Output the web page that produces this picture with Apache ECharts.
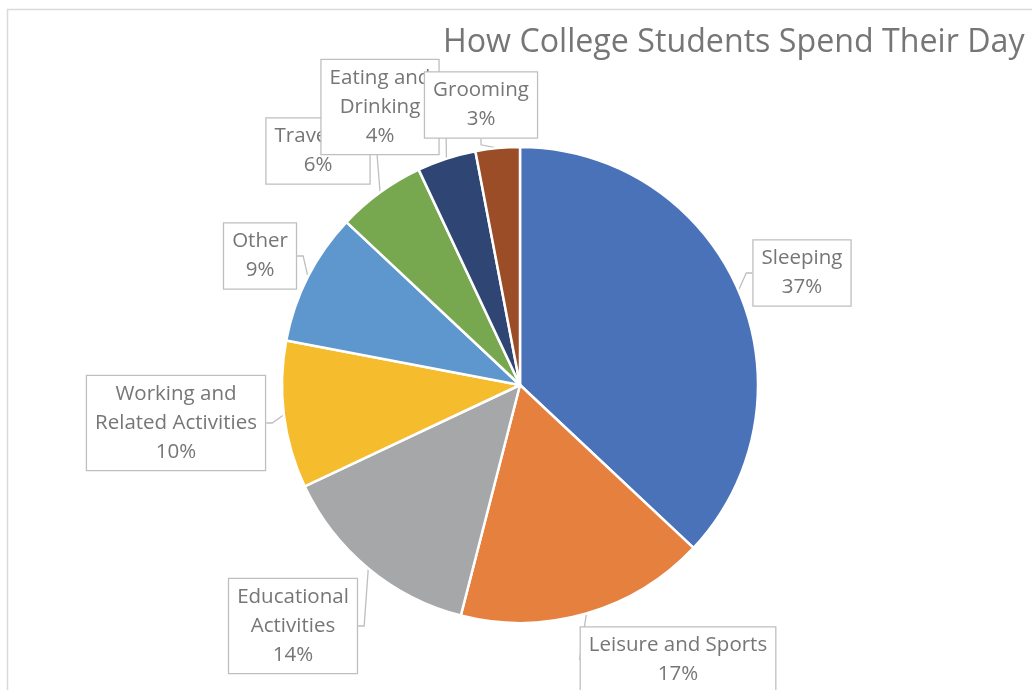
<!DOCTYPE html>
<html>
<head>
<meta charset="utf-8">
<script src="https://cdn.jsdelivr.net/npm/echarts@6/dist/echarts.min.js"></script>
<style>
  html, body { margin: 0; padding: 0; background: #fff; }
  #chart { width: 1032px; height: 690px; }
</style>
</head>
<body>
<div id="chart"></div>
<script>
// Share of a college student's day, by activity (percent)
const categories = [
  'Sleeping', 'Leisure and Sports', 'Educational Activities',
  'Working and Related Activities', 'Other', 'Traveling',
  'Eating and Drinking', 'Grooming'
];
const shares = [37, 17, 14, 10, 9, 6, 4, 3];
// How each category name is broken across lines in its callout
const wrappedNames = [
  'Sleeping', 'Leisure and Sports', 'Educational\nActivities',
  'Working and\nRelated Activities', 'Other', 'Traveling',
  'Eating and\nDrinking', 'Grooming'
];
const titleText = 'How College Students Spend Their Day';

// Slice colours
const palette = ['#4A72B8', '#E5803F', '#A6A7A8', '#F5BC2E', '#5E97CD', '#77A84F', '#2F4573', '#9A4D26'];
// Centre of each callout box, in pixels
const calloutCentres = [
  [802, 273], [678, 660], [293, 626], [176, 423],
  [260, 256], [318, 151], [380, 107], [481, 105]
];

const FONT = '"Open Sans", Lato, sans-serif';
const TEXT_GREY = '#767676';

const chart = echarts.init(document.getElementById('chart'), null, { renderer: 'canvas' });

chart.setOption({
  backgroundColor: '#fff',
  animation: false,
  title: {
    text: titleText,
    left: 438,
    top: 22,
    textStyle: { fontFamily: FONT, fontSize: 32.2, fontWeight: 'normal', color: TEXT_GREY }
  },
  graphic: [{
    type: 'rect',
    shape: { x: 7.5, y: 9.5, width: 1200, height: 900 },
    style: { fill: 'none', stroke: '#D9D9D9', lineWidth: 1.5 },
    silent: true,
    z: -1
  }],
  series: [{
    type: 'pie',
    center: [520, 385],
    radius: 238,
    startAngle: 90,
    clockwise: true,
    avoidLabelOverlap: false,
    itemStyle: { borderColor: '#fff', borderWidth: 2.5 },
    label: {
      show: true,
      position: 'outside',
      fontFamily: FONT,
      fontSize: 20.5,
      lineHeight: 29,
      color: TEXT_GREY,
      align: 'center',
      backgroundColor: '#fff',
      borderColor: '#BFBFBF',
      borderWidth: 1.3,
      padding: [4, 8, 3, 8],
      formatter: (p) => wrappedNames[p.dataIndex] + '\n' + Math.round(p.percent) + '%'
    },
    labelLine: {
      show: true,
      length: 8,
      length2: 6,
      lineStyle: { color: '#BFBFBF', width: 1.3 }
    },
    labelLayout: (params) => {
      const c = calloutCentres[params.dataIndex];
      return { x: c[0], y: c[1], align: 'center', verticalAlign: 'middle' };
    },
    data: categories.map((name, i) => ({
      name: name,
      value: shares[i],
      itemStyle: { color: palette[i] }
    }))
  }]
});
</script>
</body>
</html>
